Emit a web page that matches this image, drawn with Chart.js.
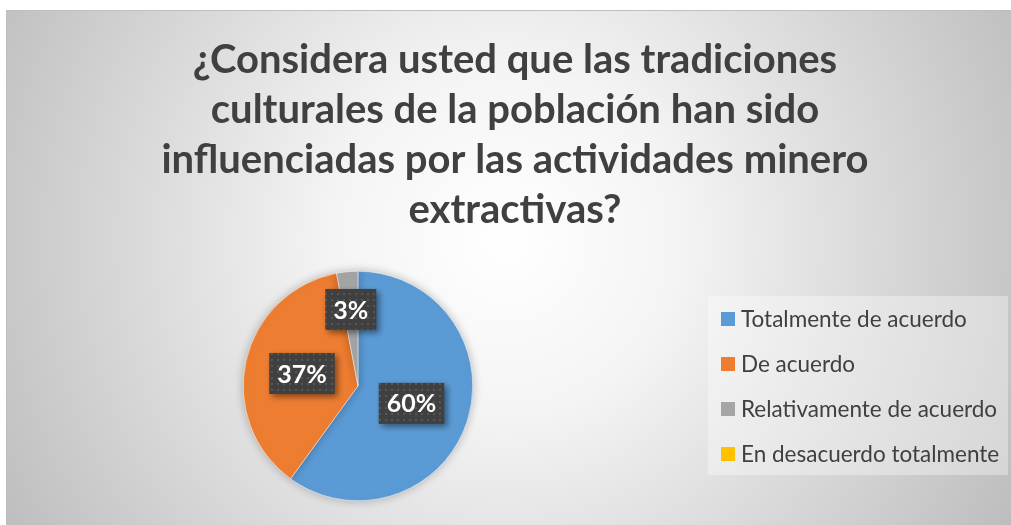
<!DOCTYPE html>
<html>
<head>
<meta charset="utf-8">
<script src="https://cdn.jsdelivr.net/npm/chart.js@4/dist/chart.umd.min.js"></script>
<style>
  html, body { margin: 0; padding: 0; background: #ffffff; }
  #wrap { position: absolute; left: 6px; top: 10px; width: 1005px; height: 515px; }
</style>
</head>
<body>
<div id="wrap"><canvas id="pieChart"></canvas></div>
<script>
const titleLines = [
    "¿Considera usted que las tradiciones",
    "culturales de la población han sido",
    "influenciadas por las actividades minero",
    "extractivas?"
];
const categories = ["Totalmente de acuerdo", "De acuerdo", "Relativamente de acuerdo", "En desacuerdo totalmente"];
const percentages = [60, 37, 3, 0];
const sliceColors = ["#5B9BD5", "#ED7D31", "#A5A5A5", "#FFC000"];

// canvas is offset by (6,10) inside the page
const OX = 6, OY = 10;

function dotPattern(ctx) {
    const c = document.createElement('canvas');
    c.width = 6; c.height = 6;
    const p = c.getContext('2d');
    p.fillStyle = '#404040';
    p.fillRect(0, 0, 6, 6);
    p.fillStyle = '#565656';
    p.fillRect(1, 1, 2, 2);
    return ctx.createPattern(c, 'repeat');
}

const backgroundPlugin = {
    id: 'bg',
    beforeDraw(chart) {
        const ctx = chart.ctx;
        const w = chart.width, h = chart.height;
        ctx.save();
        const g = ctx.createRadialGradient(505 - OX, 240 - OY, 0, 505 - OX, 240 - OY, 580);
        g.addColorStop(0, '#ffffff');
        g.addColorStop(0.3, '#f4f4f4');
        g.addColorStop(1, '#bdbdbd');
        ctx.fillStyle = g;
        ctx.fillRect(0, 0, w, h);
        ctx.strokeStyle = '#bfbfbf';
        ctx.lineWidth = 1;
        ctx.strokeRect(0.5, 0.5, w, h);

        // title
        ctx.fillStyle = '#404040';
        ctx.font = 'bold 40px Lato';
        ctx.textAlign = 'center';
        ctx.textBaseline = 'middle';
        titleLines.forEach((line, i) => {
            ctx.fillText(line, 515 - OX, 60 + i * 50 - OY);
        });

        // legend
        ctx.fillStyle = 'rgba(255,255,255,0.35)';
        ctx.fillRect(708 - OX, 296 - OY, 300, 179);
        ctx.font = '22.5px Lato';
        ctx.textAlign = 'left';
        categories.forEach((cat, i) => {
            const y = 319 + i * 45 - OY;
            ctx.fillStyle = sliceColors[i];
            ctx.fillRect(721 - OX, y - 7, 14, 14);
            ctx.fillStyle = '#404040';
            ctx.fillText(cat, 741 - OX, y + 1);
        });
        ctx.restore();
    },
    beforeDatasetsDraw(chart) {
        chart.ctx.save();
        chart.ctx.shadowColor = 'rgba(0,0,0,0.25)';
        chart.ctx.shadowBlur = 10;
    },
    afterDatasetsDraw(chart) {
        chart.ctx.restore();
    }
};

const labelPlugin = {
    id: 'boxLabels',
    afterDraw(chart) {
        const ctx = chart.ctx;
        const meta = chart.getDatasetMeta(0);
        const radial = [0.49, 0.5, 0.67, 0.5];
        const pattern = dotPattern(ctx);
        ctx.save();
        ctx.font = 'bold 25px Lato';
        ctx.textAlign = 'center';
        ctx.textBaseline = 'middle';
        meta.data.forEach((arc, i) => {
            if (percentages[i] === 0) return;
            const mid = (arc.startAngle + arc.endAngle) / 2;
            const r = arc.outerRadius * radial[i];
            const x = arc.x + Math.cos(mid) * r;
            const y = arc.y + Math.sin(mid) * r;
            const text = percentages[i] + '%';
            const tw = ctx.measureText(text).width;
            const bw = tw + 16, bh = 41;
            ctx.shadowColor = 'rgba(0,0,0,0.45)';
            ctx.shadowBlur = 6;
            ctx.shadowOffsetX = 3;
            ctx.shadowOffsetY = 3;
            ctx.fillStyle = pattern;
            ctx.fillRect(x - bw / 2, y - bh / 2, bw, bh);
            ctx.shadowColor = 'transparent';
            ctx.fillStyle = '#ffffff';
            ctx.fillText(text, x, y + 1);
        });
        ctx.restore();
    }
};

const ctx = document.getElementById('pieChart').getContext('2d');
new Chart(ctx, {
    type: 'pie',
    data: {
        labels: categories,
        datasets: [{
            data: percentages,
            backgroundColor: sliceColors,
            borderColor: '#ffffff',
            borderWidth: 0.5
        }]
    },
    options: {
        responsive: true,
        maintainAspectRatio: false,
        animation: false,
        layout: {
            padding: { left: 243 - OX, right: 1011 - 473, top: 271 - OY, bottom: 24 }
        },
        plugins: {
            legend: { display: false },
            title: { display: false },
            tooltip: { enabled: false }
        }
    },
    plugins: [backgroundPlugin, labelPlugin]
});
</script>
</body>
</html>
